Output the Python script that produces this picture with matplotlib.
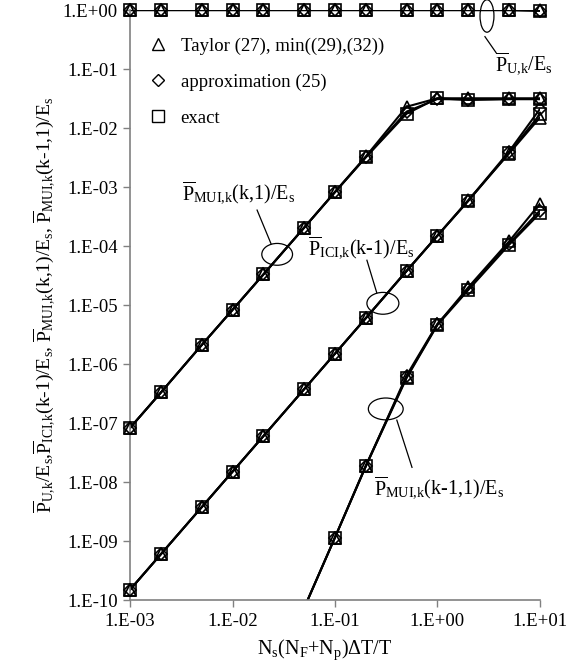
import numpy as np
import matplotlib
matplotlib.use('Agg')
import matplotlib.pyplot as plt
from matplotlib.lines import Line2D
from matplotlib.patches import Ellipse
from matplotlib.ticker import FixedLocator, FuncFormatter, NullLocator

plt.rcParams['font.family'] = ['Liberation Serif', 'DejaVu Serif']
plt.rcParams['mathtext.fontset'] = 'custom'
plt.rcParams['mathtext.rm'] = 'Liberation Serif'
plt.rcParams['mathtext.it'] = 'Liberation Serif:italic'
plt.rcParams['mathtext.default'] = 'rm'

# x positions (common sample grid)
x = [0.001, 0.002, 0.005, 0.01, 0.02, 0.05, 0.1, 0.2, 0.5, 1, 2, 5, 10]

# P_U,k / Es
pu_exact = [1.0, 1.0, 1.0, 1.0, 1.0, 1.0, 1.0, 1.0, 1.0, 1.0, 1.0, 1.0, 0.98]
pu_approx = [1.0, 1.0, 1.0, 1.0, 1.0, 1.0, 1.0, 1.0, 1.0, 1.0, 1.0, 1.0, 0.97]
pu_taylor = [1.0, 1.0, 1.0, 1.0, 1.0, 1.0, 1.0, 1.0, 1.0, 1.0, 1.0, 1.0, 1.0]

# P_MUI,k(k,1) / Es
mui1_exact = [8.3e-8, 3.3e-7, 2.1e-6, 8.3e-6, 3.3e-5, 2.05e-4, 8.2e-4, 3.2e-3, 1.75e-2, 3.2e-2, 3.0e-2, 3.1e-2, 3.1e-2]
mui1_approx = [8.3e-8, 3.3e-7, 2.1e-6, 8.3e-6, 3.3e-5, 2.05e-4, 8.2e-4, 3.2e-3, 1.9e-2, 3.1e-2, 3.05e-2, 3.1e-2, 3.1e-2]
mui1_taylor = [8.3e-8, 3.3e-7, 2.1e-6, 8.3e-6, 3.3e-5, 2.05e-4, 8.3e-4, 3.3e-3, 2.3e-2, 3.2e-2, 3.2e-2, 3.2e-2, 3.2e-2]

# P_ICI,k(k-1) / Es
ici_exact = [1.5e-10, 6.0e-10, 3.75e-9, 1.5e-8, 6.0e-8, 3.75e-7, 1.5e-6, 6.0e-6, 3.8e-5, 1.5e-4, 5.8e-4, 3.8e-3, 1.7e-2]
ici_approx = [1.5e-10, 6.0e-10, 3.75e-9, 1.5e-8, 6.0e-8, 3.75e-7, 1.5e-6, 6.0e-6, 3.8e-5, 1.5e-4, 5.9e-4, 4.0e-3, 2.1e-2]
ici_taylor = [1.5e-10, 6.0e-10, 3.75e-9, 1.5e-8, 6.0e-8, 3.75e-7, 1.5e-6, 6.0e-6, 3.75e-5, 1.5e-4, 6.0e-4, 3.7e-3, 1.5e-2]

# P_MUI,k(k-1,1) / Es  (below the axis for small x)
x_mui2 = [0.05, 0.1, 0.2, 0.5, 1, 2, 5, 10]
mui2_exact = [7.3e-11, 1.15e-9, 1.85e-8, 5.8e-7, 4.6e-6, 1.8e-5, 1.05e-4, 3.6e-4]
mui2_approx = [7.3e-11, 1.15e-9, 1.85e-8, 6.4e-7, 4.8e-6, 1.85e-5, 1.1e-4, 4.0e-4]
mui2_taylor = [7.3e-11, 1.15e-9, 1.9e-8, 6.0e-7, 4.7e-6, 2.0e-5, 1.2e-4, 5.2e-4]

yticks = [1e-10, 1e-9, 1e-8, 1e-7, 1e-6, 1e-5, 1e-4, 1e-3, 1e-2, 1e-1, 1e0]
xticks = [1e-3, 1e-2, 1e-1, 1e0, 1e1]

fig = plt.figure(figsize=(5.78, 6.72), dpi=100)
ax = fig.add_axes([0.225, 0.107, 0.709, 0.878])
ax.set_xscale('log')
ax.set_yscale('log')

ms = 8
series = [
    (x, pu_exact, pu_approx, pu_taylor),
    (x, mui1_exact, mui1_approx, mui1_taylor),
    (x, ici_exact, ici_approx, ici_taylor),
    (x_mui2, mui2_exact, mui2_approx, mui2_taylor),
]
for xs, ex, ap, ta in series:
    xs = np.array(xs)
    for ys, mk, sz in [(ta, '^', ms + 1), (ap, 'D', ms - 2), (ex, 's', ms)]:
        ys = np.array(ys)
        ax.plot(xs, ys, '-', color='black', lw=1.5, zorder=2)
        vis = ys >= 1e-10
        ax.plot(xs[vis], ys[vis], linestyle='none', marker=mk, markersize=sz,
                markerfacecolor='none', markeredgecolor='black', markeredgewidth=1.2,
                zorder=3, clip_on=False)

ax.set_xlim(1e-3, 1e1)
ax.set_ylim(1e-10, 1e0)

ax.xaxis.set_major_locator(FixedLocator(xticks))
ax.xaxis.set_minor_locator(NullLocator())
ax.yaxis.set_major_locator(FixedLocator(yticks))
ax.yaxis.set_minor_locator(NullLocator())
fmt = FuncFormatter(lambda v, p: '1.E%+03d' % int(round(np.log10(v))))
ax.xaxis.set_major_formatter(fmt)
ax.yaxis.set_major_formatter(fmt)
ax.tick_params(axis='both', direction='out', length=5, width=1, color='#808080',
               labelsize=13.5, pad=4)

for s in ['top', 'right']:
    ax.spines[s].set_visible(False)
for s in ['left', 'bottom']:
    ax.spines[s].set_color('#808080')
    ax.spines[s].set_linewidth(1.2)

PB = r'$\overline{\mathrm{P}}_{\mathrm{%s}}$'
ES = r'E$_\mathrm{s}$'
U = 'U{,}k'
ICI = 'ICI{,}k'
MUI = 'MUI{,}k'

ax.set_xlabel(r'N$_\mathrm{s}$(N$_\mathrm{F}$+N$_\mathrm{p}$)$\Delta$T/T', fontsize=14.5,
              labelpad=6, x=0.475)
ylab = (PB % U + '/' + ES + ',' + PB % ICI + '(k-1)/' + ES + ', '
        + PB % MUI + '(k,1)/' + ES + ', ' + PB % MUI + '(k-1,1)/' + ES)
ax.set_ylabel(ylab, fontsize=14, labelpad=4)

# legend
handles = [
    Line2D([], [], linestyle='none', marker='^', markersize=ms + 1, markerfacecolor='none',
           markeredgecolor='black'),
    Line2D([], [], linestyle='none', marker='D', markersize=ms - 2, markerfacecolor='none',
           markeredgecolor='black'),
    Line2D([], [], linestyle='none', marker='s', markersize=ms, markerfacecolor='none',
           markeredgecolor='black'),
]
labels = ['Taylor (27), min((29),(32))', 'approximation (25)', 'exact']
ax.legend(handles, labels, loc='upper left', bbox_to_anchor=(0.0, 0.982), frameon=False,
          fontsize=13.5, handlelength=1.2, handletextpad=0.6, labelspacing=1.0)

# annotation ellipses, leader lines and labels (axes fraction)
ann = [
    ((0.871, 0.99), 0.034, 0.055, (0.866, 0.955), (0.893, 0.928),
     (0.890, 0.910), 'left', PB % U + '/' + ES),
    ((0.359, 0.586), 0.075, 0.037, (0.310, 0.661), (0.344, 0.604),
     (0.266, 0.690), 'center', PB % MUI + '(k,1)/' + ES),
    ((0.617, 0.503), 0.078, 0.037, (0.578, 0.576), (0.602, 0.521),
     (0.434, 0.598), 'left', PB % ICI + '(k-1)/' + ES),
    ((0.624, 0.324), 0.085, 0.037, (0.651, 0.305), (0.688, 0.225),
     (0.595, 0.190), 'left', PB % MUI + '(k-1,1)/' + ES),
]
for c, w, h, p0, p1, tp, ha, txt in ann:
    ax.add_patch(Ellipse(c, w, h, transform=ax.transAxes, fill=False, edgecolor='black',
                         lw=0.9, zorder=4, clip_on=False))
    ax.add_line(Line2D([p0[0], p1[0]], [p0[1], p1[1]], transform=ax.transAxes,
                       color='black', lw=0.9, zorder=4, clip_on=False))
    ax.text(tp[0], tp[1], txt, transform=ax.transAxes, ha=ha, va='center', fontsize=14.5)

fig.savefig('out.png', dpi=100)
